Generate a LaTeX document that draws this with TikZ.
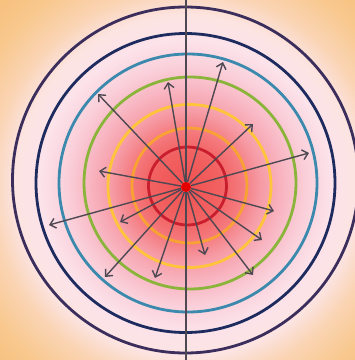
\documentclass[tikz,border=0pt]{standalone}
\usepackage{xcolor}
\usepackage{tikz}
\usetikzlibrary{arrows.meta}

\definecolor{peach}{HTML}{F7C07C}
\definecolor{ringout}{HTML}{3B2D5C}
\definecolor{ringnavy}{HTML}{1E2B5E}
\definecolor{ringteal}{HTML}{3B8AAE}
\definecolor{ringgreen}{HTML}{8BB43A}
\definecolor{ringyellow}{HTML}{FFC53A}
\definecolor{ringorange}{HTML}{F9A234}
\definecolor{ringred}{HTML}{C81E2D}
\definecolor{raygray}{HTML}{4E4852}
\definecolor{gA}{HTML}{F05050}
\definecolor{gB}{HTML}{F26262}
\definecolor{gC}{HTML}{F47A7E}
\definecolor{gD}{HTML}{F69CA6}
\definecolor{gE}{HTML}{F8B6C2}
\definecolor{gF}{HTML}{FAD0DA}
\definecolor{gG}{HTML}{FCE2EA}
\definecolor{gH}{HTML}{FCE4E2}
\definecolor{gI}{HTML}{FAD4B4}
\definecolor{gJ}{HTML}{F8C88E}

% stops in bp, one bp per pixel of the picture
\pgfdeclareradialshading{glow}{\pgfpoint{0bp}{0bp}}{color(0bp)=(gA); color(35bp)=(gB); color(55bp)=(gC); color(75bp)=(gD); color(97bp)=(gE); color(120bp)=(gF); color(145bp)=(gG); color(170bp)=(gH); color(195bp)=(gI); color(230bp)=(gJ); color(265bp)=(peach)}

\tikzset{
  ring/.style={line width=2.8pt},
  ray/.style={->, line width=1.4pt, draw=raygray},
}

\begin{document}
\begin{tikzpicture}[x=1pt, y=-1pt, >={Straight Barb[length=5.5pt,width=10pt]}]
    \useasboundingbox (0,0) rectangle (355,360);
    \clip (0,0) rectangle (355,360);
    \node (halo) [inner sep=0pt] at (186,186) {\pgfuseshading{glow}};

    % rings, inside out
    \foreach \cx/\cy/\r/\col in {187.5/186/39/ringred, 189.5/185.5/57.5/ringorange, 189.5/186/81.5/ringyellow,
        190/183/106/ringgreen, 188/183/129/ringteal, 185.5/183/149.5/ringnavy, 185.5/180/173/ringout}
        \draw[ring, \col] (\cx,\cy) circle (\r);

    \coordinate (top) at (186,0);
    \coordinate (bot) at (186,360);
    \draw[line width=1.3pt, raygray] (top) -- (bot);

    \node (src) [circle, fill=red!90!black, inner sep=0pt, minimum size=10pt] at (186,187) {};

    % rays
    \foreach \x/\y [count=\i] in {98/94, 168/82, 223/62, 253/124, 309/153, 99/171, 49/225,
        120/222, 105/277, 155/278, 205/255, 253/275, 262/240, 274/211} {
        \coordinate (t\i) at (\x,\y);
        \draw[ray] (src) -- (t\i);
    }
\end{tikzpicture}
\end{document}
